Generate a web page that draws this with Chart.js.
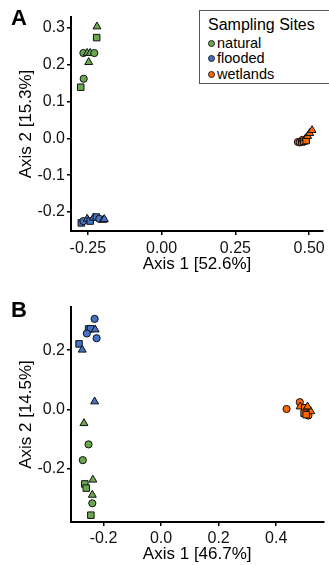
<!DOCTYPE html>
<html>
<head>
<meta charset="utf-8">
<script src="https://cdn.jsdelivr.net/npm/chart.js@4.4.0/dist/chart.umd.min.js"></script>
<style>
  body { margin: 0; background: #fff; font-family: "Liberation Sans", Arial, sans-serif; }
  #wrap { position: relative; width: 329px; height: 565px; overflow: hidden; }
  .panel { position: absolute; left: 0; width: 329px; }
  #pA { top: 0; height: 283px; }
  #pB { top: 283px; height: 282px; }
  .tag { position: absolute; font-weight: bold; font-size: 22px; color: #000; line-height: 1; }
  #legend { position: absolute; left: 199px; top: 10px; width: 140px; height: 72px;
            border: 1px solid #555; background: #fff; color: #000; }
  #legend .ttl { position: absolute; left: 8px; top: 4px; font-size: 16px; line-height: 20px; }
  #legend .it { position: absolute; left: 17px; font-size: 14.5px; line-height: 16px; }
  #legend .dot { position: absolute; left: -9px; top: 5px; width: 5px; height: 5px;
                 border-radius: 50%; border: 1px solid #222; }
</style>
</head>
<body>
<div id="wrap">
  <div class="panel" id="pA"><canvas id="chartA"></canvas></div>
  <div class="panel" id="pB"><canvas id="chartB"></canvas></div>
  <div class="tag" style="left:11px; top:7px;">A</div>
  <div class="tag" style="left:11px; top:299px;">B</div>
  <div id="legend">
    <div class="ttl">Sampling Sites</div>
    <div class="it" style="top:24px;"><span class="dot" style="background:#6aa84f"></span>natural</div>
    <div class="it" style="top:39px;"><span class="dot" style="background:#4472c4"></span>flooded</div>
    <div class="it" style="top:55px;"><span class="dot" style="background:#ff6600"></span>wetlands</div>
  </div>
</div>
<script>
// site names and colours
const sites = ['natural', 'flooded', 'wetlands'];
const siteColors = ['#6aa84f', '#4472c4', '#ff6600'];
// shapes: c = circle, s = square, t = triangle
const shapeNames = { c: 'circle', s: 'rect', t: 'triangle' };

// Panel A  (Axis 1 [52.6%] / Axis 2 [15.3%])
const naturalA_x = [-0.219, -0.220, -0.265, -0.252, -0.242, -0.228, -0.247, -0.264, -0.274];
const naturalA_y = [0.304, 0.274, 0.232, 0.232, 0.232, 0.232, 0.207, 0.162, 0.139];
const naturalA_shape = ['t', 's', 'c', 't', 't', 'c', 't', 'c', 's'];

const floodedA_x = [-0.272, -0.265, -0.252, -0.242, -0.231, -0.221, -0.211, -0.198, -0.194];
const floodedA_y = [-0.230, -0.225, -0.219, -0.225, -0.216, -0.214, -0.219, -0.222, -0.220];
const floodedA_shape = ['s', 'c', 't', 's', 't', 's', 'c', 't', 't'];

const wetlandsA_x = [0.462, 0.468, 0.475, 0.478, 0.482, 0.488, 0.490, 0.495, 0.502, 0.510];
const wetlandsA_y = [-0.010, -0.011, -0.010, -0.004, -0.008, 0.000, -0.006, 0.006, 0.014, 0.022];
const wetlandsA_shape = ['c', 'c', 's', 'c', 's', 't', 's', 't', 't', 't'];

const xTicksA = [-0.25, 0.00, 0.25, 0.50];
const yTicksA = [-0.2, -0.1, 0.0, 0.1, 0.2, 0.3];

// Panel B  (Axis 1 [46.7%] / Axis 2 [14.5%])
const naturalB_x = [-0.268, -0.252, -0.272, -0.237, -0.265, -0.260, -0.239, -0.239, -0.244];
const naturalB_y = [-0.046, -0.117, -0.170, -0.236, -0.250, -0.264, -0.287, -0.315, -0.355];
const naturalB_shape = ['t', 'c', 'c', 't', 's', 's', 't', 'c', 's'];

const floodedB_x = [-0.231, -0.252, -0.245, -0.229, -0.258, -0.224, -0.285, -0.274, -0.231];
const floodedB_y = [0.305, 0.271, 0.272, 0.269, 0.256, 0.240, 0.221, 0.201, 0.027];
const floodedB_shape = ['c', 's', 's', 't', 'c', 'c', 's', 't', 't'];

const wetlandsB_x = [0.436, 0.482, 0.483, 0.499, 0.503, 0.497, 0.512, 0.520, 0.509, 0.504];
const wetlandsB_y = [0.002, 0.025, 0.010, 0.006, -0.001, -0.012, -0.020, -0.006, 0.010, -0.017];
const wetlandsB_shape = ['c', 'c', 't', 's', 't', 's', 'c', 't', 't', 's'];

const xTicksB = [-0.2, 0.0, 0.2, 0.4];
const yTicksB = [-0.2, 0.0, 0.2];

Chart.defaults.font.family = '"Liberation Sans", Arial, sans-serif';
Chart.defaults.color = '#111';

function makeSet(i, xs, ys, shapes) {
  return {
    label: sites[i],
    data: xs.map((x, k) => ({ x: x, y: ys[k] })),
    backgroundColor: siteColors[i],
    borderColor: '#111',
    borderWidth: 1,
    pointStyle: shapes.map(s => shapeNames[s]),
    pointRadius: shapes.map(s => s === 'c' ? 3.6 : 4.6),
  };
}

function axis(ticks, digits, min, max, title, fitSize, titlePad, tickPad) {
  return {
    type: 'linear',
    min: min,
    max: max,
    afterBuildTicks: s => { s.ticks = ticks.map(v => ({ value: v })); },
    afterFit: s => { if (s.isHorizontal()) s.height = fitSize; else s.width = fitSize; },
    ticks: {
      autoSkip: false, maxRotation: 0, padding: tickPad,
      font: { size: 16 }, color: '#111',
      callback: v => v.toFixed(digits)
    },
    grid: { drawOnChartArea: false, drawTicks: true, tickLength: 4, color: '#000', lineWidth: 1.5 },
    border: { display: true, color: '#000', width: 2 },
    title: { display: true, text: title, font: { size: 17 }, color: '#000', padding: titlePad }
  };
}

function buildChart(id, sets, xs, ys, padTop) {
  return new Chart(document.getElementById(id), {
    type: 'scatter',
    data: { datasets: sets },
    options: {
      responsive: true,
      maintainAspectRatio: false,
      animation: false,
      layout: { padding: { top: padTop, right: 3, left: 0, bottom: 0 } },
      plugins: { legend: { display: false }, tooltip: { enabled: false } },
      scales: { x: xs, y: ys }
    }
  });
}

buildChart('chartA', [
  makeSet(0, naturalA_x, naturalA_y, naturalA_shape),
  makeSet(1, floodedA_x, floodedA_y, floodedA_shape),
  makeSet(2, wetlandsA_x, wetlandsA_y, wetlandsA_shape)
],
  axis(xTicksA, 2, -0.307, 0.547, 'Axis 1 [52.6%]', 52, { top: 0, bottom: 8 }, 4),
  axis(yTicksA, 1, -0.252, 0.330, 'Axis 2 [15.3%]', 71, { top: 16, bottom: 0 }, 2),
  17);

buildChart('chartB', [
  makeSet(0, naturalB_x, naturalB_y, naturalB_shape),
  makeSet(1, floodedB_x, floodedB_y, floodedB_shape),
  makeSet(2, wetlandsB_x, wetlandsB_y, wetlandsB_shape)
],
  axis(xTicksB, 1, -0.313, 0.564, 'Axis 1 [46.7%]', 43, { top: 0, bottom: 0 }, 3),
  axis(yTicksB, 1, -0.378, 0.345, 'Axis 2 [14.5%]', 71, { top: 16, bottom: 0 }, 2),
  24);
</script>
</body>
</html>
